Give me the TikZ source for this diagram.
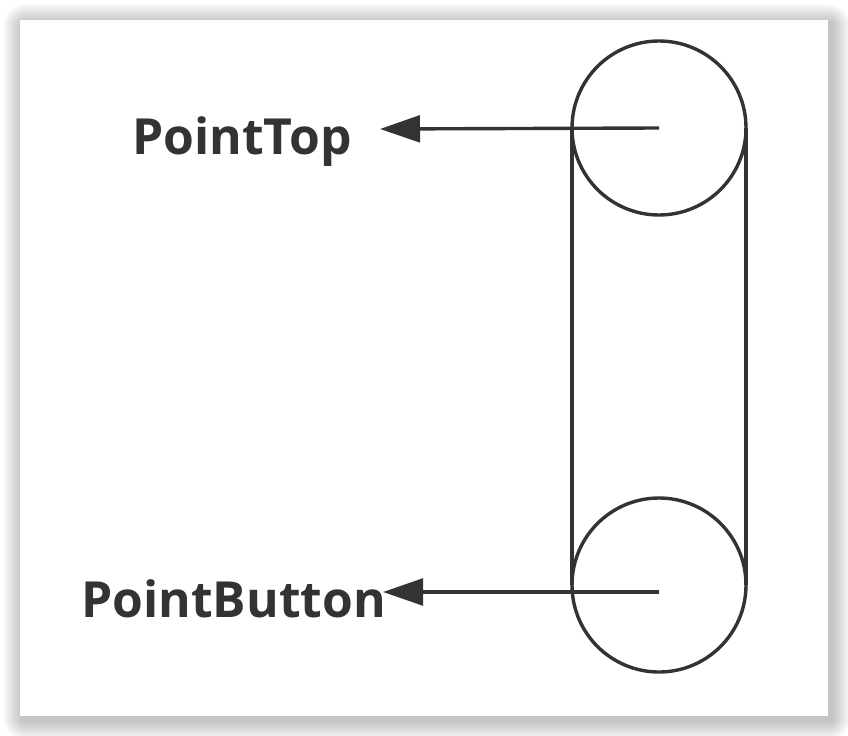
\documentclass[tikz,border=0pt]{standalone}
\usepackage{fontspec}
\setmainfont{Open Sans}
\usetikzlibrary{arrows.meta}
\definecolor{ink}{HTML}{333333}
\tikzset{
  rope/.style={draw=ink, line width=2.9pt},
  pointer/.style={ink, line width=2.9pt, -{Triangle[length=1.2cm, width=0.8cm]}},
  label/.style={ink, font=\fontsize{42.5}{48}\selectfont\bfseries, inner sep=0pt, anchor=base west}
}
\begin{document}
\begin{tikzpicture}[x=0.03cm, y=-0.03cm]
\useasboundingbox (0,0) rectangle (848,736);
\fill[white] (0,0) rectangle (848,736);
% soft shadow round the panel
\foreach \d in {20,18,...,2}
  \fill[black, opacity=0.022, rounded corners=\d] (20-\d+3,20-\d+4) rectangle (828+\d+3,716+\d+4);
\fill[white] (20,20) rectangle (828,716);
% pulley
\coordinate (cT) at (659,128);
\coordinate (cB) at (659,585);
\draw[rope] (cT) circle (87);
\draw[rope] (cB) circle (87);
\draw[rope] (572,128) -- (572,585);
\draw[rope] (746,128) -- (746,585);
% labels
\node[label] (nT) at (132,155) {PointTop};
\node[label] (nB) at (81,617) {PointButton};
\coordinate (tipT) at (380,129);
\coordinate (tipB) at (383,592);
\draw[pointer] (cT) -- (tipT);
\draw[pointer] (659,592) -- (tipB);
\end{tikzpicture}
\end{document}
